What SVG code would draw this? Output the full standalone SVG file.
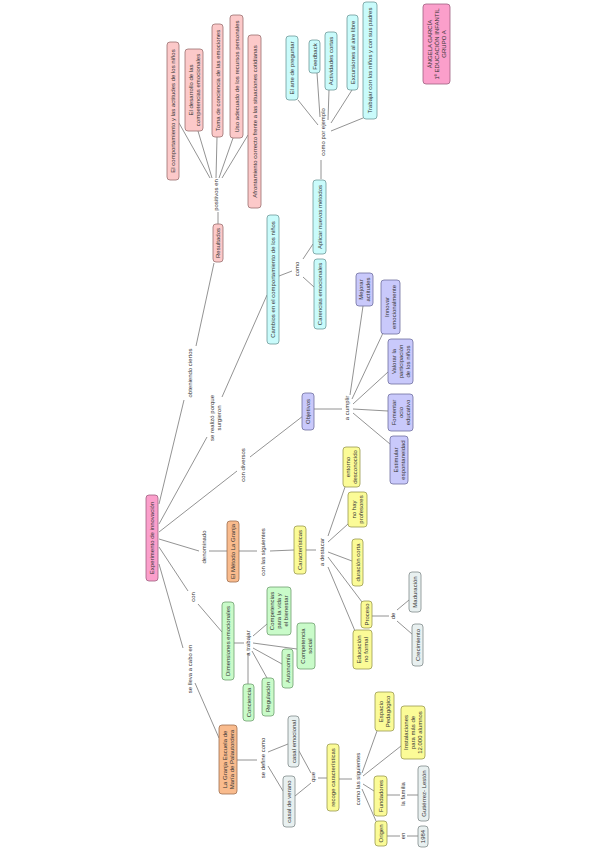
<svg xmlns="http://www.w3.org/2000/svg" width="599" height="848" viewBox="0 0 599 848">
<style>
rect{stroke-width:0.8}
.p rect{fill:#fcc9c9;stroke:#9a7070}
.c rect{fill:#c9fbfb;stroke:#6f9999}
.l rect{fill:#c9c9fb;stroke:#7070a0}
.h rect{fill:#fb9fcb;stroke:#a06080}
.o rect{fill:#f9bb8d;stroke:#a07050}
.y rect{fill:#fbfb97;stroke:#9a9a50}
.g rect{fill:#c9fbc9;stroke:#70a070}
.s rect{fill:#e8f0f0;stroke:#808a8a}
text{font-family:"Liberation Sans",Arial,sans-serif;font-size:6px;fill:#333;text-anchor:middle}
#conn path{stroke:#777;stroke-width:0.8;fill:none}
</style>
<rect x="0" y="0" width="599" height="848" fill="#fff"/>
<g id="conn">
<path d="M159,504L184,400M196,346L214,263M218,224L218,212"/>
<path d="M210,178L179,123M212,178L198,131M216,178L217,137M219,178L233,138M222,178L248,135"/>
<path d="M159,524L207,437M222,397L267,295"/>
<path d="M159,532L237,471M250,457L303,416"/>
<path d="M159,539L199,551M209,551L227,551M239,551L257,551M270,551L294,550M306,550L316,550"/>
<path d="M328,536L345,487M328,542L348,524M328,552L352,561M328,557L362,602M328,567L355,631"/>
<path d="M372,616L389,616M397,610L409,600M397,621L412,634"/>
<path d="M159,547L188,591M198,604L222,632M234,643L244,643"/>
<path d="M253,636L267,624M253,643L297,649M253,648L282,664M252,651L267,678M248,653L248,684"/>
<path d="M159,564L183,648M195,683L219,738M237,760L257,760"/>
<path d="M268,752L288,744M268,766L283,791M299,751L311,773M295,796L311,783M318,778L327,778M339,779L352,779"/>
<path d="M362,773L377,731M363,776L401,746M363,784L374,791M362,789L376,821"/>
<path d="M387,795L400,795M407,795L418,795M387,836L400,836M407,836L418,836"/>
<path d="M314,409L342,409M350,395L363,306M352,399L383,333M353,404L388,372M353,409L388,411M353,413L390,444"/>
<path d="M279,276L292,271M303,259L313,244M303,277L314,287M321,179L321,160"/>
<path d="M318,125L298,100M320,117L317,73M328,120L329,90M331,123L352,90M331,131L363,118"/>
</g>
<g id="n-comp" class="p"><rect x="167" y="42" width="12" height="138" rx="3"/><text transform="translate(173,111) rotate(-90)" y="2.1">El comportamiento y las actitudes de los niños</text></g>
<g id="n-desa" class="p"><rect x="185" y="49" width="18" height="82" rx="3"/><text transform="translate(194,90) rotate(-90)"><tspan x="0" y="-1.4">El desarrollo de las</tspan><tspan x="0" y="5.6">competencias emocionales</tspan></text></g>
<g id="n-toma" class="p"><rect x="212" y="24" width="11" height="113" rx="3"/><text transform="translate(217.5,80.5) rotate(-90)" y="2.1">Toma de conciencia de las emociones</text></g>
<g id="n-uso" class="p"><rect x="230" y="15" width="13" height="123" rx="3"/><text transform="translate(236.5,76.5) rotate(-90)" y="2.1">Uso adecuado de los recursos personales</text></g>
<g id="n-afro" class="p"><rect x="248" y="35" width="13" height="173" rx="3"/><text transform="translate(254.5,121.5) rotate(-90)" y="2.1">Afrontamiento correcto frente a las situaciones cotidianas</text></g>
<g id="n-res" class="p"><rect x="213" y="224" width="10" height="38" rx="3"/><text transform="translate(218,243) rotate(-90)" y="2.1">Resultados</text></g>
<g id="n-arte" class="c"><rect x="286" y="36" width="12" height="64" rx="3"/><text transform="translate(292,68) rotate(-90)" y="2.1">El arte de preguntar</text></g>
<g id="n-feed" class="c"><rect x="309" y="40" width="11" height="33" rx="3"/><text transform="translate(314.5,56.5) rotate(-90)" y="2.1">Feedback</text></g>
<g id="n-activ" class="c"><rect x="325" y="32" width="12" height="58" rx="3"/><text transform="translate(331,61) rotate(-90)" y="2.1">Actividades cortas</text></g>
<g id="n-excur" class="c"><rect x="347" y="15" width="11" height="75" rx="3"/><text transform="translate(352.5,52.5) rotate(-90)" y="2.1">Excursiones al aire libre</text></g>
<g id="n-trab" class="c"><rect x="363" y="2" width="14" height="117" rx="3"/><text transform="translate(370,60.5) rotate(-90)" y="2.1">Trabajar con los niños y con sus padres</text></g>
<g id="n-aplic" class="c"><rect x="313" y="180" width="13" height="74" rx="3"/><text transform="translate(319.5,217) rotate(-90)" y="2.1">Aplicar nuevos métodos</text></g>
<g id="n-caren" class="c"><rect x="314" y="259" width="12" height="70" rx="3"/><text transform="translate(320,294) rotate(-90)" y="2.1">Carencias emocionales</text></g>
<g id="n-camb" class="c"><rect x="267" y="215" width="12" height="129" rx="3"/><text transform="translate(273,279.5) rotate(-90)" y="2.1">Cambios en el comportamiento de los niños</text></g>
<g id="n-obj" class="l"><rect x="302" y="393" width="12" height="37" rx="3"/><text transform="translate(308,411.5) rotate(-90)" y="2.1">Objetivos</text></g>
<g id="n-mejo" class="l"><rect x="356" y="273" width="17" height="33" rx="3"/><text transform="translate(364.5,289.5) rotate(-90)"><tspan x="0" y="-1.4">Mejorar</tspan><tspan x="0" y="5.6">actitudes</tspan></text></g>
<g id="n-inno" class="l"><rect x="381" y="280" width="19" height="54" rx="3"/><text transform="translate(390.5,307) rotate(-90)"><tspan x="0" y="-1.4">Innovar</tspan><tspan x="0" y="5.6">emocionalmente</tspan></text></g>
<g id="n-valo" class="l"><rect x="388" y="339" width="25" height="45" rx="3"/><text transform="translate(400.5,361.5) rotate(-90)"><tspan x="0" y="-4.9">Valorar la</tspan><tspan x="0" y="2.1">participación</tspan><tspan x="0" y="9.1">de los niños</tspan></text></g>
<g id="n-fome" class="l"><rect x="388" y="394" width="25" height="37" rx="3"/><text transform="translate(400.5,412.5) rotate(-90)"><tspan x="0" y="-4.9">Fomentar</tspan><tspan x="0" y="2.1">ocio</tspan><tspan x="0" y="9.1">educativo</tspan></text></g>
<g id="n-esti" class="l"><rect x="390" y="436" width="18" height="48" rx="3"/><text transform="translate(399,460) rotate(-90)"><tspan x="0" y="-1.4">Estimular</tspan><tspan x="0" y="5.6">espontaneidad</tspan></text></g>
<g id="n-exp" class="h"><rect x="146" y="495" width="12" height="86" rx="3"/><text transform="translate(152,538) rotate(-90)" y="2.1">Experimento de innovación</text></g>
<g id="n-ang" class="h"><rect x="423" y="4" width="27" height="80" rx="3"/><text transform="translate(436.5,44) rotate(-90)"><tspan x="0" y="-4.9">ÁNGELA GARCÍA</tspan><tspan x="0" y="2.1">1º EDUCACIÓN INFANTIL</tspan><tspan x="0" y="9.1">GRUPO A</tspan></text></g>
<g id="n-meto" class="o"><rect x="227" y="521" width="12" height="61" rx="3"/><text transform="translate(233,551.5) rotate(-90)" y="2.1">El Método La Granja</text></g>
<g id="n-granja" class="o"><rect x="219" y="725" width="18" height="69" rx="3"/><text transform="translate(228,759.5) rotate(-90)"><tspan x="0" y="-1.4">La Granja Escuela de</tspan><tspan x="0" y="5.6">María de Palautordera</tspan></text></g>
<g id="n-cara" class="y"><rect x="294" y="526" width="12" height="48" rx="3"/><text transform="translate(300,550) rotate(-90)" y="2.1">Características</text></g>
<g id="n-ento" class="y"><rect x="343" y="447" width="17" height="40" rx="3"/><text transform="translate(351.5,467) rotate(-90)"><tspan x="0" y="-1.4">entorno</tspan><tspan x="0" y="5.6">desconocido</tspan></text></g>
<g id="n-nohay" class="y"><rect x="348" y="492" width="19" height="35" rx="3"/><text transform="translate(357.5,509.5) rotate(-90)"><tspan x="0" y="-1.4">no hay</tspan><tspan x="0" y="5.6">profesores</tspan></text></g>
<g id="n-dura" class="y"><rect x="352" y="539" width="11" height="47" rx="3"/><text transform="translate(357.5,562.5) rotate(-90)" y="2.1">duración corta</text></g>
<g id="n-proc" class="y"><rect x="361" y="601" width="11" height="27" rx="3"/><text transform="translate(366.5,614.5) rotate(-90)" y="2.1">Proceso</text></g>
<g id="n-edu" class="y"><rect x="353" y="630" width="19" height="39" rx="3"/><text transform="translate(362.5,649.5) rotate(-90)"><tspan x="0" y="-1.4">Educación</tspan><tspan x="0" y="5.6">no formal</tspan></text></g>
<g id="n-reco" class="y"><rect x="327" y="744" width="12" height="67" rx="3"/><text transform="translate(333,777.5) rotate(-90)" y="2.1">recoge características</text></g>
<g id="n-espa" class="y"><rect x="375" y="692" width="19" height="39" rx="3"/><text transform="translate(384.5,711.5) rotate(-90)"><tspan x="0" y="-1.4">Espacio</tspan><tspan x="0" y="5.6">Pedagógico</tspan></text></g>
<g id="n-inst" class="y"><rect x="401" y="706" width="24" height="53" rx="3"/><text transform="translate(413,732.5) rotate(-90)"><tspan x="0" y="-4.9">Instalaciones</tspan><tspan x="0" y="2.1">para más de</tspan><tspan x="0" y="9.1">12.000 alumnos</tspan></text></g>
<g id="n-fund" class="y"><rect x="374" y="776" width="13" height="40" rx="3"/><text transform="translate(380.5,796) rotate(-90)" y="2.1">Fundadores</text></g>
<g id="n-orig" class="y"><rect x="375" y="821" width="12" height="25" rx="3"/><text transform="translate(381,833.5) rotate(-90)" y="2.1">Origen</text></g>
<g id="n-dime" class="g"><rect x="222" y="602" width="12" height="78" rx="3"/><text transform="translate(228,641) rotate(-90)" y="2.1">Dimensiones emocionales</text></g>
<g id="n-cvida" class="g"><rect x="267" y="587" width="24" height="48" rx="3"/><text transform="translate(279,611) rotate(-90)"><tspan x="0" y="-4.9">Competencias</tspan><tspan x="0" y="2.1">para la vida y</tspan><tspan x="0" y="9.1">el bienestar</tspan></text></g>
<g id="n-csoc" class="g"><rect x="297" y="623" width="18" height="46" rx="3"/><text transform="translate(306,646) rotate(-90)"><tspan x="0" y="-1.4">Competencia</tspan><tspan x="0" y="5.6">social</tspan></text></g>
<g id="n-auto" class="g"><rect x="282" y="649" width="11" height="39" rx="3"/><text transform="translate(287.5,668.5) rotate(-90)" y="2.1">Autonomía</text></g>
<g id="n-regu" class="g"><rect x="262" y="678" width="12" height="38" rx="3"/><text transform="translate(268,697) rotate(-90)" y="2.1">Regulación</text></g>
<g id="n-conc" class="g"><rect x="243" y="684" width="11" height="37" rx="3"/><text transform="translate(248.5,702.5) rotate(-90)" y="2.1">Conciencia</text></g>
<g id="n-madu" class="s"><rect x="409" y="572" width="12" height="40" rx="3"/><text transform="translate(415,592) rotate(-90)" y="2.1">Maduración</text></g>
<g id="n-crec" class="s"><rect x="412" y="624" width="11" height="42" rx="3"/><text transform="translate(417.5,645) rotate(-90)" y="2.1">Crecimiento</text></g>
<g id="n-cemo" class="s"><rect x="288" y="716" width="11" height="51" rx="3"/><text transform="translate(293.5,741.5) rotate(-90)" y="2.1">casal emocional</text></g>
<g id="n-cver" class="s"><rect x="283" y="776" width="12" height="51" rx="3"/><text transform="translate(289,801.5) rotate(-90)" y="2.1">casal de verano</text></g>
<g id="n-guti" class="s"><rect x="418" y="766" width="11" height="55" rx="3"/><text transform="translate(423.5,793.5) rotate(-90)" y="2.1">Gutiérrez- Lestón</text></g>
<g id="n-1984" class="s"><rect x="418" y="826" width="10" height="21" rx="3"/><text transform="translate(423,836.5) rotate(-90)" y="2.1">1984</text></g>
<g id="labels">
<text transform="translate(216,195) rotate(-90)" y="2.1">positivos en</text>
<text transform="translate(323,132) rotate(-90)" y="2.1">como por ejemplo</text>
<text transform="translate(297,269) rotate(-90)" y="2.1">como</text>
<text transform="translate(190,373) rotate(-90)" y="2.1">obteniendo ciertos</text>
<text transform="translate(215,418) rotate(-90)"><tspan x="0" y="-1.4">se realizó porque</tspan><tspan x="0" y="5.6">surgieron</tspan></text>
<text transform="translate(243,465) rotate(-90)" y="2.1">con diversos</text>
<text transform="translate(204,547) rotate(-90)" y="2.1">denominado</text>
<text transform="translate(263,552) rotate(-90)" y="2.1">con las siguientes</text>
<text transform="translate(322,552) rotate(-90)" y="2.1">a destacar</text>
<text transform="translate(393,616) rotate(-90)" y="2.1">de</text>
<text transform="translate(193,597) rotate(-90)" y="2.1">con</text>
<text transform="translate(248,643) rotate(-90)" y="2.1">a trabajar</text>
<text transform="translate(190,669) rotate(-90)" y="2.1">se lleva a cabo en</text>
<text transform="translate(263,758) rotate(-90)" y="2.1">se define como</text>
<text transform="translate(313,777) rotate(-90)" y="2.1">que</text>
<text transform="translate(358,779) rotate(-90)" y="2.1">como las siguientes</text>
<text transform="translate(347,408) rotate(-90)" y="2.1">a cumplir</text>
<text transform="translate(403,794) rotate(-90)" y="2.1">la familia</text>
<text transform="translate(403,836) rotate(-90)" y="2.1">en</text>
</g>
</svg>
